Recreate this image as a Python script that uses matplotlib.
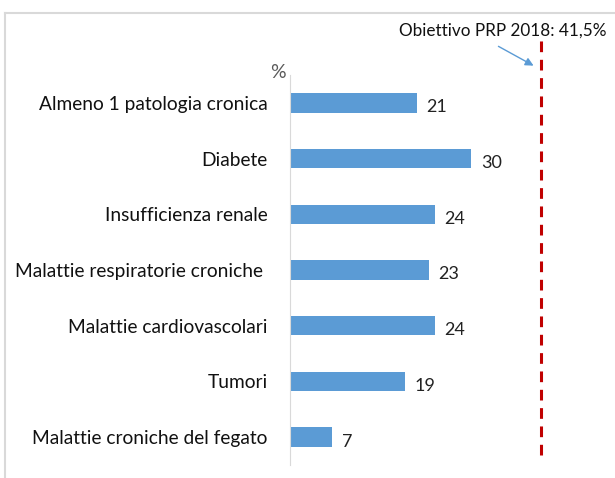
import matplotlib.pyplot as plt
from matplotlib.lines import Line2D

categorie = ['Almeno 1 patologia cronica', 'Diabete', 'Insufficienza renale',
             'Malattie respiratorie croniche ', 'Malattie cardiovascolari',
             'Tumori', 'Malattie croniche del fegato']
valori = [21, 30, 24, 23, 24, 19, 7]
obiettivo = 41.5

plt.rcParams['font.family'] = ['Lato', 'DejaVu Sans']

fig = plt.figure(figsize=(6.15, 4.78), dpi=100)
ax = fig.add_axes([290/615, 13/478, 325/615, 390/478])

pos = list(range(len(categorie)))
ax.barh(pos, valori, height=0.35, color='#5B9BD5')
for p, v in zip(pos, valori):
    ax.text(v + 1.6, p + 0.08, str(v), va='center', ha='left', fontsize=13, color='#222222')

ax.axvline(obiettivo, ymin=0.026, ymax=1.097, color='#C00000', lw=2.2,
           ls=(0, (3.5, 2.5)), clip_on=False)

ax.set_yticks(pos)
ax.set_yticklabels(categorie, fontsize=13.8, color='#111111')
ax.tick_params(axis='y', length=0, pad=16)
ax.set_xticks([])
ax.set_ylim(6.5, -0.5)
ax.set_xlim(0, 53.8)
for s in ['top', 'right', 'bottom']:
    ax.spines[s].set_visible(False)
ax.spines['left'].set_color('#D9D9D9')

fig.text(278/615, 1 - 72/478, '%', fontsize=14, color='#595959', ha='center', va='center')

fig.text(503/615, 1 - 31/478, 'Obiettivo PRP 2018: 41,5%', fontsize=12.3, ha='center',
         va='center', color='#111111')
ax.annotate('', xy=(536/615, 1 - 67/478), xytext=(496/615, 1 - 45/478),
            xycoords='figure fraction', textcoords='figure fraction',
            arrowprops=dict(arrowstyle='-|>', color='#5B9BD5', lw=1, mutation_scale=12))

# cornice
fig.add_artist(Line2D([5/615, 1], [1 - 13/478, 1 - 13/478], color='#D9D9D9', lw=1.5))
fig.add_artist(Line2D([5/615, 5/615], [0, 1 - 13/478], color='#D9D9D9', lw=1.5))

fig.savefig('out.png', dpi=100)
